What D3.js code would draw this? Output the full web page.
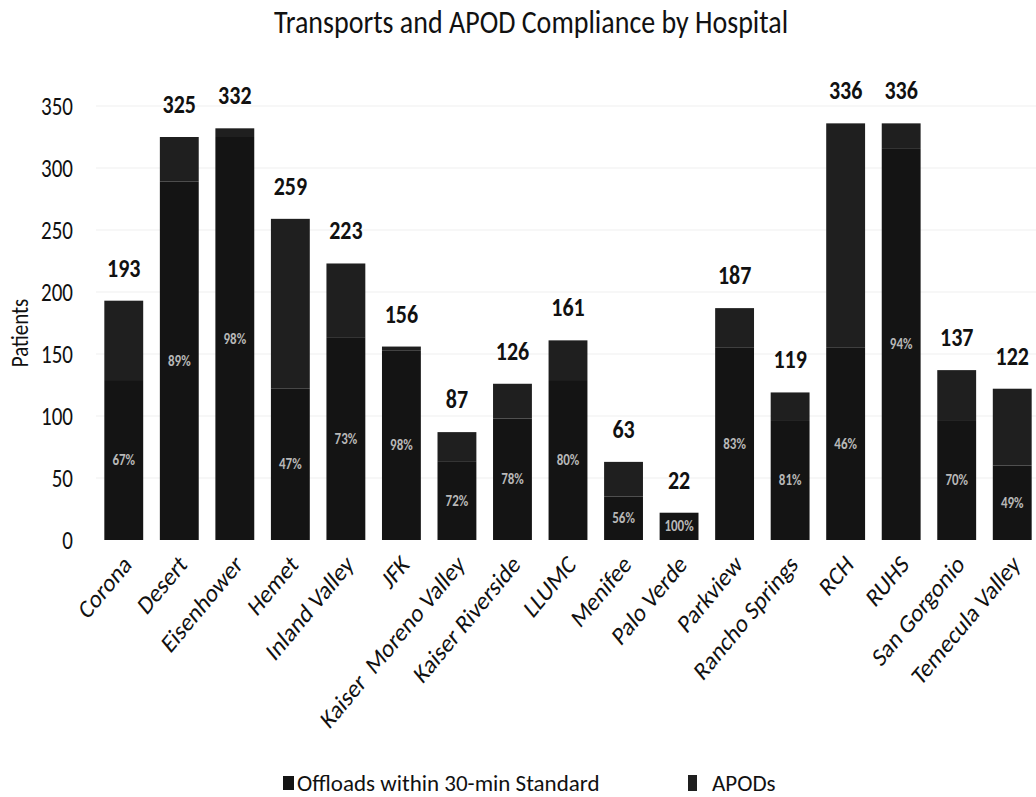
<!DOCTYPE html>
<html><head><meta charset="utf-8">
<script src="https://cdn.jsdelivr.net/npm/d3@7/dist/d3.min.js"></script>
<style>body{margin:0;background:#fff} svg{display:block}</style>
</head><body>
<script>
const hospitals = ["Corona","Desert","Eisenhower","Hemet","Inland Valley","JFK","Kaiser  Moreno Valley","Kaiser Riverside","LLUMC","Menifee","Palo Verde","Parkview","Rancho Springs","RCH","RUHS","San Gorgonio","Temecula Valley"];
const totalTransports = [193,325,332,259,223,156,87,126,161,63,22,187,119,336,336,137,122];
const offloadsWithin = [129,289,325,122,163,153,63,98,129,35,22,155,96,155,316,96,60];
const compliancePct = ["67%","89%","98%","47%","73%","98%","72%","78%","80%","56%","100%","83%","81%","46%","94%","70%","49%"];
const yTicks = [0,50,100,150,200,250,300,350];
const seriesNames = ["Offloads within 30-min Standard","APODs"];
const titleText = "Transports and APOD Compliance by Hospital";
const yTitle = "Patients";

const W = 1036, H = 797;
const FONT = "Carlito, Lato, 'Open Sans', sans-serif";
const SY = 1.2; // vertical stretch of the scanned original
const colBottom = "#141414", colTop = "#1f1f1f";

const svg = d3.select("body").append("svg").attr("width", W).attr("height", H)
  .style("font-family", FONT);

const x = d3.scaleBand().domain(hospitals).range([96, 1040]).paddingInner(0.3).paddingOuter(0.15);
const y = d3.scaleLinear().domain([0, 350]).range([540, 106]);

// title
svg.append("text").attr("transform", `translate(531,33) scale(1,${SY})`).attr("text-anchor", "middle")
  .attr("font-size", 28).attr("fill", "#111").text(titleText);

// gridlines
svg.append("g").selectAll("line").data(yTicks.slice(1)).join("line")
  .attr("x1", 96).attr("x2", W).attr("y1", d => y(d)).attr("y2", d => y(d))
  .attr("stroke", "#efefef").attr("stroke-width", 1);

// y axis
const yAxis = svg.append("g").attr("transform", "translate(80,0)")
  .call(d3.axisLeft(y).tickValues(yTicks).tickSize(0).tickPadding(7));
yAxis.select(".domain").remove();
yAxis.selectAll("text").attr("font-size", 21).attr("fill", "#111").style("font-family", FONT)
  .attr("transform", `scale(1,${SY + 0.05})`);

svg.append("text").attr("transform", `translate(28,333) scale(${SY},1) rotate(-90)`)
  .attr("text-anchor", "middle").attr("font-size", 21).attr("fill", "#111").text(yTitle);

// bars
const rows = hospitals.map((h, i) => ({h, total: totalTransports[i], off: offloadsWithin[i], pct: compliancePct[i]}));
const g = svg.append("g");
g.selectAll("rect.top").data(rows).join("rect").attr("class", "top")
  .attr("x", d => x(d.h)).attr("width", x.bandwidth())
  .attr("y", d => y(d.total)).attr("height", d => y(d.off) - y(d.total))
  .attr("fill", colTop);
g.selectAll("rect.bot").data(rows).join("rect").attr("class", "bot")
  .attr("x", d => x(d.h)).attr("width", x.bandwidth())
  .attr("y", d => y(d.off)).attr("height", d => y(0) - y(d.off))
  .attr("fill", colBottom);

// percentage labels
g.selectAll("text.pct").data(rows).join("text").attr("class", "pct")
  .attr("transform", d => `translate(${x(d.h) + x.bandwidth() / 2},${(y(0) + y(d.off)) / 2 + 5}) scale(1,${SY})`)
  .attr("text-anchor", "middle").attr("font-size", 13).attr("font-weight", "bold").attr("fill", "#b8b8b8")
  .text(d => d.pct);

// total labels
g.selectAll("text.tot").data(rows).join("text").attr("class", "tot")
  .attr("transform", d => `translate(${x(d.h) + x.bandwidth() / 2},${y(d.total) - 24}) scale(1,${SY})`)
  .attr("text-anchor", "middle").attr("font-size", 22).attr("font-weight", "bold").attr("fill", "#111")
  .text(d => d.total);

// x labels
svg.append("g").selectAll("text").data(hospitals).join("text")
  .attr("transform", d => `translate(${x(d) + x.bandwidth() / 2 + 9},566) scale(1,${SY}) rotate(-45)`)
  .attr("text-anchor", "end").attr("font-size", 22).attr("fill", "#111")
  .style("white-space", "pre")
  .text(d => d);

// legend
const lg = svg.append("g").attr("transform", "translate(0,791)");
lg.append("rect").attr("x", 283).attr("y", -15).attr("width", 11).attr("height", 14).attr("fill", colBottom);
lg.append("text").attr("x", 297).attr("y", 0).attr("font-size", 23).attr("fill", "#111")
  .attr("transform", `translate(0,0)`).text(seriesNames[0]);
lg.append("rect").attr("x", 688).attr("y", -16).attr("width", 9).attr("height", 16).attr("fill", colTop);
lg.append("text").attr("x", 712).attr("y", 0).attr("font-size", 23).attr("fill", "#111").text(seriesNames[1]);
</script>
</body></html>
